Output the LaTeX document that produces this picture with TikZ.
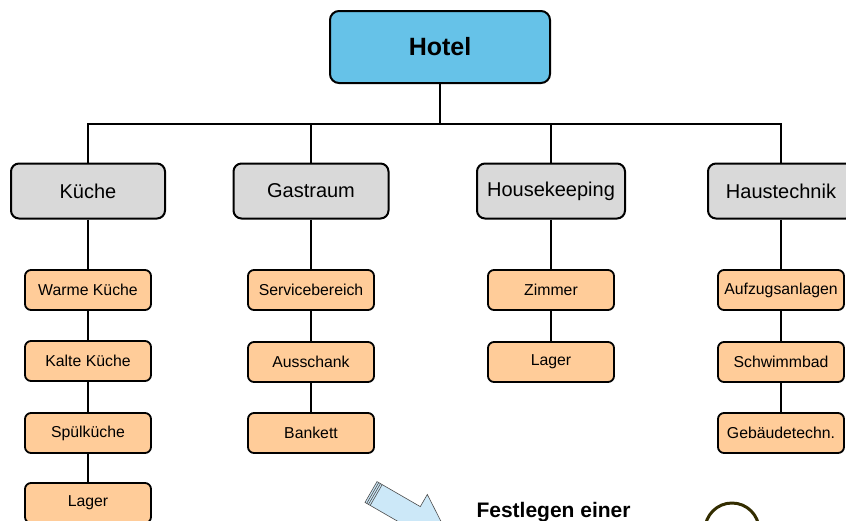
\documentclass[tikz,border=0pt]{standalone}
\usepackage{fontspec}
\setmainfont{Liberation Sans}
\usetikzlibrary{positioning}
\definecolor{hotelblue}{RGB}{102,194,232}
\definecolor{deptgray}{RGB}{217,217,217}
\definecolor{suborange}{RGB}{255,204,153}
\definecolor{arrowblue}{RGB}{204,232,248}
\definecolor{ringolive}{RGB}{51,45,0}

\begin{document}
\begin{tikzpicture}[x=1pt, y=-1pt,
    hotelbox/.style={draw, line width=2pt, rounded corners=9pt, fill=hotelblue,
      minimum width=220pt, minimum height=72pt, font=\fontsize{25}{30}\selectfont\bfseries},
    deptbox/.style={draw, line width=2pt, rounded corners=8pt, fill=deptgray,
      minimum width=154pt, minimum height=55pt, inner sep=1pt, font=\fontsize{20}{24}\selectfont},
    subbox/.style={draw, line width=1.8pt, rounded corners=6pt, fill=suborange,
      minimum width=126pt, minimum height=40pt, inner sep=1pt, font=\fontsize{15.8}{19}\selectfont},
    conn/.style={line width=2.6pt}]
        \useasboundingbox (0,0) rectangle (846,520);

        % Top
        \node[hotelbox] (hotel) at (440,47) {Hotel};

        % Departments
        \node[deptbox] (kueche) at (88,191) {Küche};
        \node[deptbox, minimum width=155pt] (gastraum) at (311,191) {Gastraum};
        \node[deptbox, minimum width=148pt] (housekeeping) at (551,191) {Housekeeping};
        \node[deptbox, minimum width=146pt] (haustechnik) at (781,191) {Haustechnik};

        % Sub-units
        \node[subbox] (warm) at (88,290) {Warme Küche};
        \node[subbox] (kalt) at (88,361) {Kalte Küche};
        \node[subbox] (spuel) at (88,433) {Spülküche};
        \node[subbox] (lagerk) at (88,503) {Lager};

        \node[subbox] (service) at (311,290) {Servicebereich};
        \node[subbox] (ausschank) at (311,362) {Ausschank};
        \node[subbox] (bankett) at (311,433) {Bankett};

        \node[subbox] (zimmer) at (551,290) {Zimmer};
        \node[subbox] (lagerh) at (551,362) {Lager};

        \node[subbox] (aufzug) at (781,290) {Aufzugsanlagen};
        \node[subbox] (schwimm) at (781,362) {Schwimmbad};
        \node[subbox] (gebaeude) at (781,433) {Gebäudetechn.};

        % Connectors
        \foreach \d in {kueche,gastraum,housekeeping,haustechnik}
            \draw[conn] (hotel.south) -- ++(0,40) -| (\d.north);
        \draw[conn] (kueche.south) -- (warm.north) (warm.south) -- (kalt.north)
            (kalt.south) -- (spuel.north) (spuel.south) -- (lagerk.north);
        \draw[conn] (gastraum.south) -- (service.north) (service.south) -- (ausschank.north)
            (ausschank.south) -- (bankett.north);
        \draw[conn] (housekeeping.south) -- (zimmer.north) (zimmer.south) -- (lagerh.north);
        \draw[conn] (haustechnik.south) -- (aufzug.north) (aufzug.south) -- (schwimm.north)
            (schwimm.south) -- (gebaeude.north);

        % Block arrow
        \begin{scope}[shift={(371,492)}, rotate=-30]
            \filldraw[fill=arrowblue, draw=black!70, line width=0.6pt]
                (0,-12) -- (50,-12) -- (50,-26) -- (90,0) -- (50,26) -- (50,12) -- (0,12) -- cycle;
            \foreach \s in {2,4,6}
                \draw[black!70, line width=0.6pt] (\s,-12) -- (\s,12);
        \end{scope}

        \node[anchor=base west, font=\fontsize{21}{25}\selectfont\bfseries] (festlegen) at (473,517) {Festlegen einer};

        \draw[ringolive, line width=3pt] (732,530) circle (27);
    \end{tikzpicture}
\end{document}
